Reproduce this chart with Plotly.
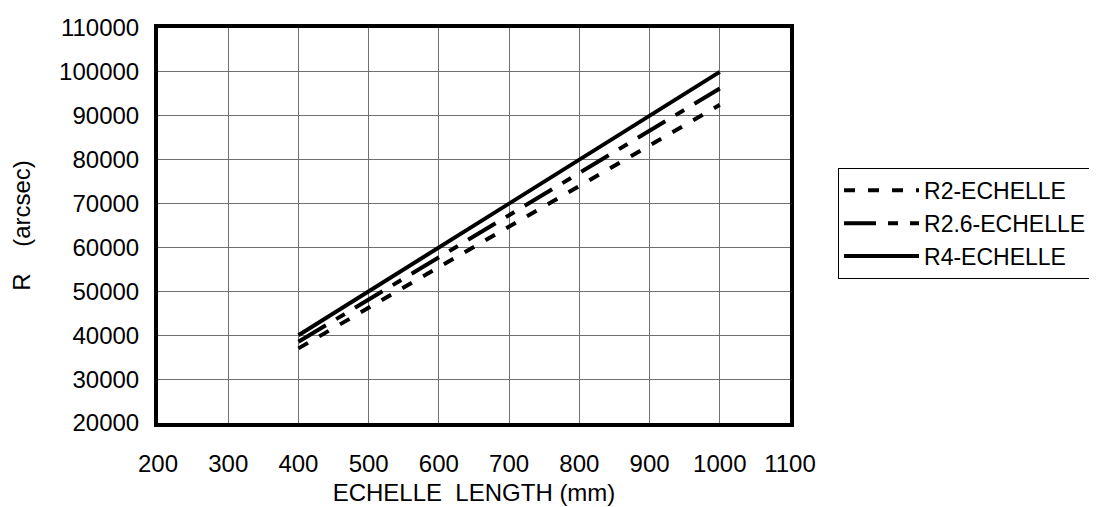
import plotly.graph_objects as go

lengths = [400, 500, 600, 700, 800, 900, 1000]
r2 = [37000, 46250, 55500, 64750, 74000, 83250, 92500]
r26 = [38500, 48100, 57700, 67300, 77000, 86600, 96200]
r4 = [40000, 50000, 60000, 70000, 80000, 90000, 100000]
names = ["R2-ECHELLE", "R2.6-ECHELLE", "R4-ECHELLE"]

FONT = "Liberation Sans, Arial, sans-serif"
FS = 24

fig = go.Figure()
fig.add_trace(go.Scatter(x=lengths, y=r2, mode="lines", name=names[0],
                         line=dict(color="black", width=4, dash="11px,13px")))
fig.add_trace(go.Scatter(x=lengths, y=r26, mode="lines", name=names[1],
                         line=dict(color="black", width=4, dash="32px,12px,10px,12px")))
fig.add_trace(go.Scatter(x=lengths, y=r4, mode="lines", name=names[2],
                         line=dict(color="black", width=4)))

fig.update_layout(
    width=1097, height=507,
    margin=dict(l=150, r=315, t=20, b=92, autoexpand=False),
    paper_bgcolor="white", plot_bgcolor="white",
    font=dict(family=FONT, size=FS, color="black"),
    showlegend=True,
    legend=dict(x=1.076, y=0.646, xanchor="left", yanchor="top",
                bordercolor="black", borderwidth=1, bgcolor="white",
                font=dict(size=23), itemwidth=75, entrywidth=180,
                entrywidthmode="pixels"),
    xaxis=dict(range=[200, 1100], dtick=100, tick0=200,
               showgrid=True, gridcolor="#707070", gridwidth=1,
               showline=True, linecolor="black", linewidth=4, mirror=True,
               zeroline=False, ticks="", ticklabelstandoff=16,
               title=dict(text="ECHELLE\u00a0\u00a0LENGTH (mm)", standoff=9,
                          font=dict(size=FS))),
    yaxis=dict(range=[20000, 110000], dtick=10000, tick0=20000,
               tickformat="d",
               showgrid=True, gridcolor="#707070", gridwidth=1,
               showline=True, linecolor="black", linewidth=4, mirror=True,
               zeroline=False, ticks="", ticklabelstandoff=10,
               title=dict(text="R\u00a0\u00a0\u00a0\u00a0(arcsec)", standoff=30,
                          font=dict(size=FS))),
)

fig.write_html("out.html")
